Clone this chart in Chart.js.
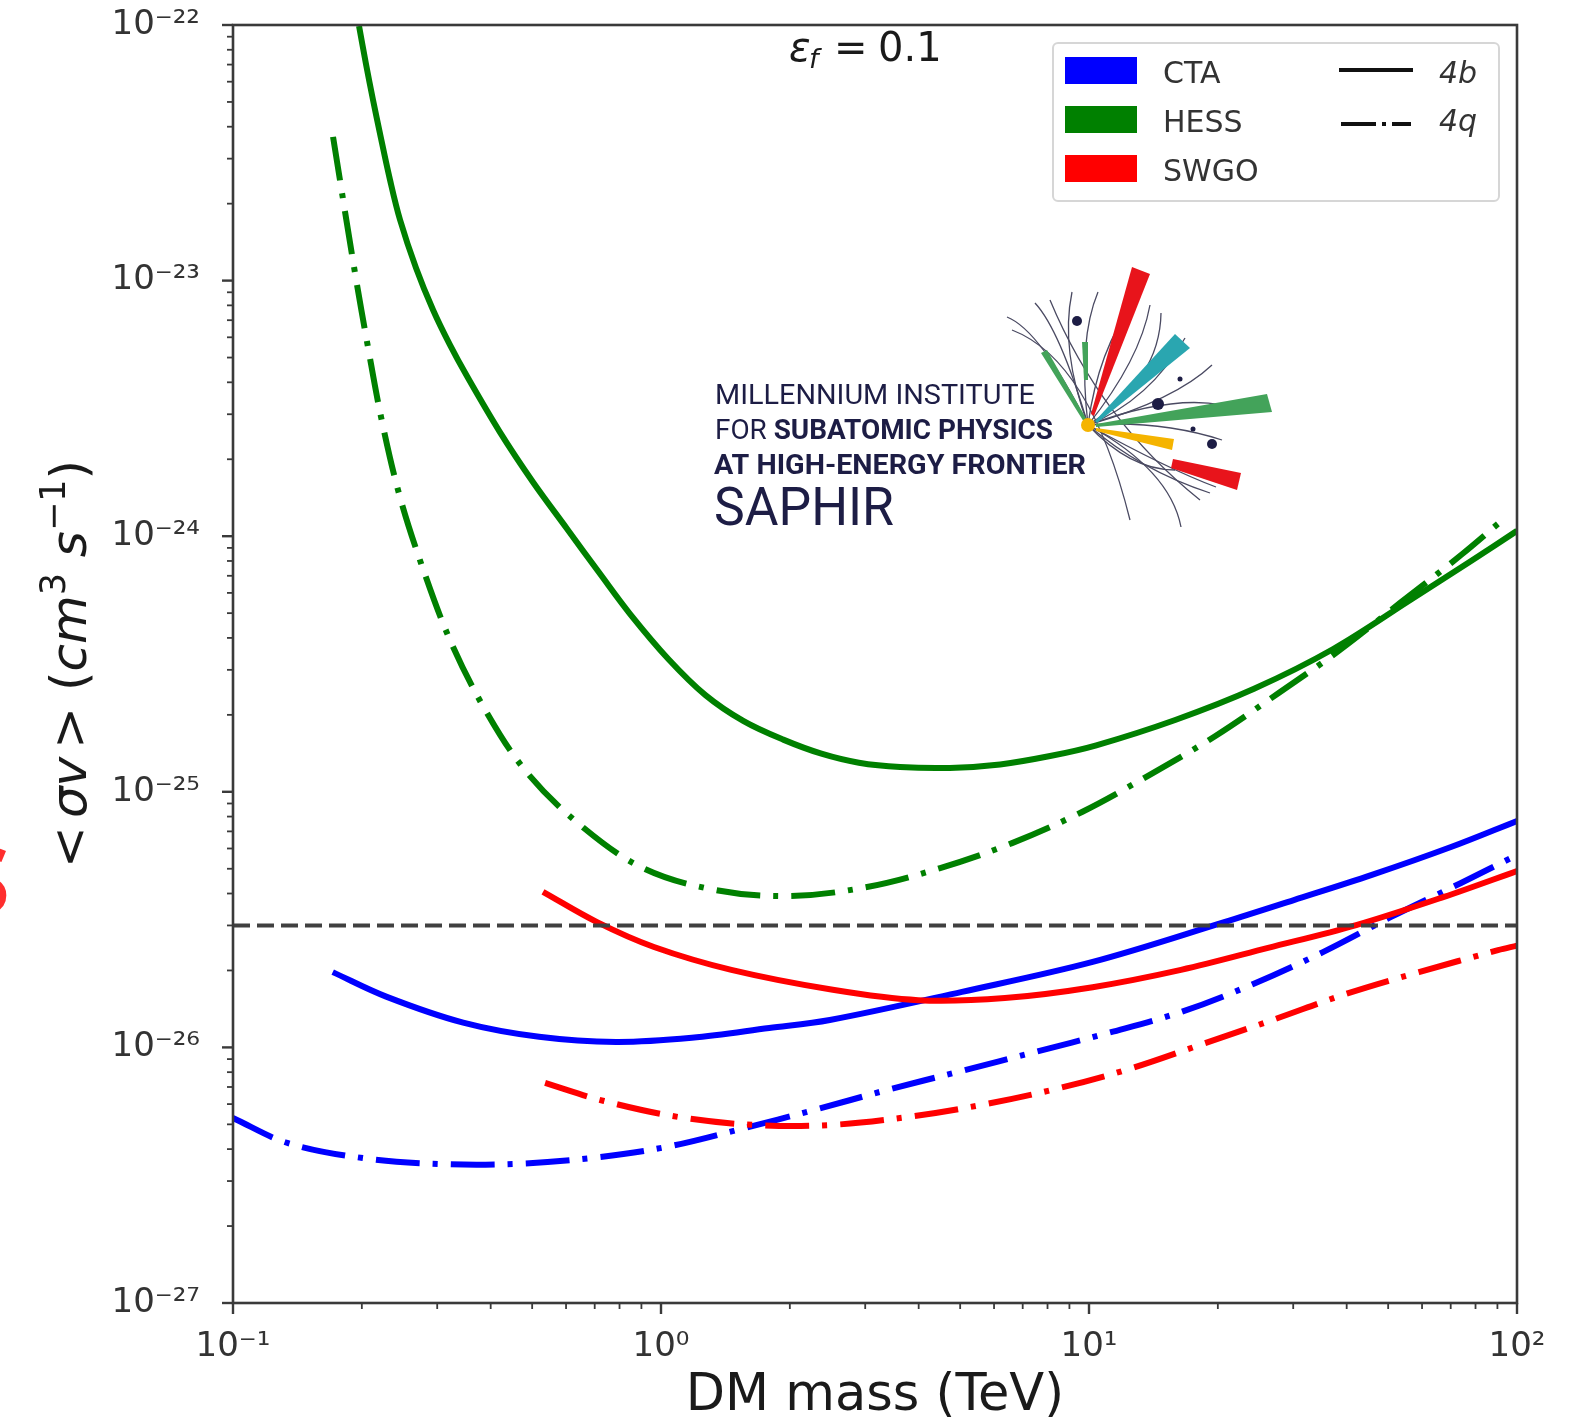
<!DOCTYPE html>
<html>
<head>
<meta charset="utf-8">
<script src="https://cdn.jsdelivr.net/npm/chart.js@4.4.1/dist/chart.umd.min.js"></script>
<style>
  html, body { margin: 0; padding: 0; background: #fff; }
  canvas { display: block; }
</style>
</head>
<body>
<canvas id="grafico" width="1587" height="1427"></canvas>
<script>
//Masas en TeV y <σv> en cm^3 s^-1 de cada experimento
const ctaMass4b = [0.171, 0.228, 0.345, 0.519, 0.785, 1.18, 1.79, 2.48, 5.05, 10.2, 20.7, 30.1, 45.8, 70.1, 100];
const ctaSigma4b = [1.97e-26, 1.58e-26, 1.25e-26, 1.10e-26, 1.05e-26, 1.09e-26, 1.19e-26, 1.28e-26, 1.65e-26, 2.16e-26, 3.09e-26, 3.77e-26, 4.73e-26, 6.08e-26, 7.69e-26];

const ctaMass4q = [0.1, 0.134, 0.201, 0.301, 0.456, 0.686, 1.03, 1.54, 2.28, 3.37, 5.02, 7.48, 11.1, 16.5, 24.2, 35.2, 50.8, 74.0, 100];
const ctaSigma4q = [5.29e-27, 4.23e-27, 3.69e-27, 3.50e-27, 3.50e-27, 3.69e-27, 4.08e-27, 4.80e-27, 5.69e-27, 6.81e-27, 8.08e-27, 9.59e-27, 1.14e-26, 1.38e-26, 1.77e-26, 2.36e-26, 3.24e-26, 4.40e-26, 5.66e-26];

const hessMass4b = [0.197, 0.2045, 0.2124, 0.2206, 0.2327, 0.2456, 0.2677, 0.2934, 0.3213, 0.352, 0.42, 0.502, 0.603, 0.721, 0.847, 1.04, 1.27, 1.56, 1.93, 2.37, 2.9, 3.62, 4.73, 6.2, 8.11, 10.4, 15.9, 24.3, 37.2, 56.8, 78.1, 100];
const hessSigma4b = [9.91e-23, 7.04e-23, 5.09e-23, 3.75e-23, 2.48e-23, 1.73e-23, 1.12e-23, 7.67e-24, 5.6e-24, 4.23e-24, 2.56e-24, 1.63e-24, 1.07e-24, 7.11e-25, 4.96e-25, 3.31e-25, 2.39e-25, 1.89e-25, 1.6e-25, 1.41e-25, 1.3e-25, 1.25e-25, 1.24e-25, 1.28e-25, 1.38e-25, 1.52e-25, 1.91e-25, 2.53e-25, 3.62e-25, 5.68e-25, 8.0e-25, 1.05e-24];

const hessMass4q = [0.1713, 0.1928, 0.2067, 0.223, 0.2456, 0.278, 0.3213, 0.386, 0.484, 0.647, 0.908, 1.34, 2.0, 3.03, 4.49, 6.61, 9.63, 13.8, 19.7, 27.8, 38.6, 53.3, 74.0, 94.3];
const hessSigma4q = [3.65e-23, 1.07e-23, 5.5e-24, 2.8e-24, 1.42e-24, 7.44e-25, 3.93e-25, 2.13e-25, 1.2e-25, 7.42e-26, 5.03e-26, 4.13e-26, 3.91e-26, 4.24e-26, 5.03e-26, 6.3e-26, 8.34e-26, 1.16e-25, 1.65e-25, 2.44e-25, 3.59e-25, 5.48e-25, 8.44e-25, 1.19e-24];

const swgoMass4b = [0.53, 0.709, 0.963, 1.46, 2.52, 3.99, 6.36, 10.2, 16.4, 26.2, 42.1, 67.5, 100];
const swgoSigma4b = [4.06e-26, 3.09e-26, 2.47e-26, 2.01e-26, 1.68e-26, 1.53e-26, 1.56e-26, 1.72e-26, 2.01e-26, 2.45e-26, 3.01e-26, 3.88e-26, 4.9e-26];

const swgoMass4q = [0.536, 0.736, 1.10, 1.66, 2.48, 3.76, 5.59, 8.37, 12.4, 18.4, 27.2, 39.9, 59.0, 90.3, 100];
const swgoSigma4q = [7.26e-27, 6.17e-27, 5.34e-27, 4.97e-27, 4.97e-27, 5.34e-27, 5.95e-27, 6.88e-27, 8.23e-27, 1.03e-26, 1.29e-26, 1.62e-26, 1.97e-26, 2.4e-26, 2.5e-26];

//Seccion eficaz termica (linea discontinua)
const relicMass = [0.1, 100];
const relicSigma = [3e-26, 3e-26];

//Decadas de los ejes
const xDecadas = [-1, 0, 1, 2];
const yDecadas = [-27, -26, -25, -24, -23, -22];

const experimentos = ["CTA", "HESS", "SWGO"];
const canales = ["4b", "4q"];

const AZUL = "#0000ff";
const VERDE = "#008000";
const ROJO = "#ff0000";
const PUNTO_RAYA = [44, 13, 5, 13];

//Convierte un exponente a superindice unicode
const SUP = { "-": "\u207b", "0": "\u2070", "1": "\u00b9", "2": "\u00b2", "3": "\u00b3", "4": "\u2074", "5": "\u2075", "6": "\u2076", "7": "\u2077", "8": "\u2078", "9": "\u2079" };
function potencia(exp) {
  return "10" + String(exp).split("").map((c) => SUP[c]).join("");
}

function esPotencia(v) {
  const e = Math.log10(v);
  return Math.abs(e - Math.round(e)) < 1e-6;
}

//Marcas 1..9 por cada decada
function ticksLog(scale, decadas) {
  const ticks = [];
  for (let i = 0; i < decadas.length - 1; i++) {
    for (let k = 1; k <= 9; k++) {
      ticks.push({ value: k * Math.pow(10, decadas[i]) });
    }
  }
  ticks.push({ value: Math.pow(10, decadas[decadas.length - 1]) });
  scale.ticks = ticks;
}

function etiqueta(value) {
  return esPotencia(value) ? potencia(Math.round(Math.log10(value))) : "";
}

function serie(mass, sigma) {
  return mass.map((m, i) => ({ x: m, y: sigma[i] }));
}

function linea(label, mass, sigma, color, dash, order) {
  return {
    label: label,
    data: serie(mass, sigma),
    borderColor: color,
    borderWidth: 6,
    borderDash: dash,
    borderCapStyle: "butt",
    pointRadius: 0,
    fill: false,
    tension: 0.35,
    order: order,
  };
}

//Dibuja texto con partes de distinta fuente
function textoRico(ctx, partes, x, y, align) {
  let total = 0;
  partes.forEach((p) => {
    ctx.font = p.font;
    p.w = ctx.measureText(p.t).width + (p.gap || 0);
    total += p.w;
  });
  let cx = align === "center" ? x - total / 2 : x;
  partes.forEach((p) => {
    ctx.font = p.font;
    ctx.fillText(p.t, cx, y + (p.dy || 0));
    cx += p.w;
  });
}

//Texto escalado horizontalmente a un ancho dado
function textoAjustado(ctx, partes, x, y, ancho) {
  let total = 0;
  partes.forEach((p) => {
    ctx.font = p.font;
    p.w = ctx.measureText(p.t).width;
    total += p.w;
  });
  ctx.save();
  ctx.translate(x, y);
  ctx.scale(ancho / total, 1);
  let cx = 0;
  partes.forEach((p) => {
    ctx.font = p.font;
    ctx.fillText(p.t, cx, 0);
    cx += p.w;
  });
  ctx.restore();
}

function cuña(ctx, puntos, color) {
  ctx.fillStyle = color;
  ctx.beginPath();
  ctx.moveTo(puntos[0][0], puntos[0][1]);
  for (let i = 1; i < puntos.length; i++) ctx.lineTo(puntos[i][0], puntos[i][1]);
  ctx.closePath();
  ctx.fill();
}

function circulo(ctx, x, y, r, color) {
  ctx.fillStyle = color;
  ctx.beginPath();
  ctx.arc(x, y, r, 0, Math.PI * 2);
  ctx.fill();
}

//Logo del instituto dentro del area del grafico
function dibujarLogo(ctx) {
  const navy = "#1d1d45";
  ctx.save();
  ctx.fillStyle = navy;
  ctx.textAlign = "left";
  ctx.textBaseline = "alphabetic";
  const reg = '400 28px Roboto';
  const neg = '700 28px Roboto';
  textoAjustado(ctx, [{ t: "MILLENNIUM INSTITUTE", font: reg }], 715, 404, 320);
  textoAjustado(ctx, [{ t: "FOR ", font: reg }, { t: "SUBATOMIC PHYSICS", font: neg }], 715, 439, 338);
  textoAjustado(ctx, [{ t: "AT HIGH-ENERGY FRONTIER", font: neg }], 714, 474, 372);
  textoAjustado(ctx, [{ t: "SAPHIR", font: '400 53px Roboto' }], 714, 525, 180);

  //Trazas finas
  const c = [1088, 425];
  const trazas = [
    [[1007, 317], [1040, 330]],
    [[1035, 303], [1060, 330]],
    [[1072, 292], [1060, 350]],
    [[1098, 292], [1078, 340]],
    [[1135, 300], [1098, 350]],
    [[1150, 305], [1140, 360]],
    [[1161, 313], [1160, 380]],
    [[1185, 338], [1150, 400]],
    [[1212, 365], [1175, 400]],
    [[1222, 405], [1170, 395]],
    [[1216, 487], [1170, 470]],
    [[1181, 527], [1170, 470]],
    [[1210, 493], [1140, 470]],
    [[1222, 440], [1160, 420]],
    [[1175, 470], [1130, 470]],
  ];
  ctx.strokeStyle = "#4a4a62";
  ctx.lineWidth = 1.3;
  trazas.forEach(([fin, ctrl]) => {
    ctx.beginPath();
    ctx.moveTo(c[0], c[1]);
    ctx.quadraticCurveTo(ctrl[0], ctrl[1], fin[0], fin[1]);
    ctx.stroke();
  });
  //Arcos largos que cruzan el centro
  ctx.beginPath();
  ctx.moveTo(1012, 330);
  ctx.quadraticCurveTo(1090, 360, 1130, 520);
  ctx.stroke();
  ctx.beginPath();
  ctx.moveTo(1050, 300);
  ctx.quadraticCurveTo(1100, 420, 1200, 500);
  ctx.stroke();

  //Cuñas de colores
  cuña(ctx, [[1091, 414], [1132, 267], [1150, 274], [1094, 416]], "#e8141b");
  cuña(ctx, [[1095, 421], [1175, 334], [1190, 348], [1097, 423]], "#2aa6b0");
  cuña(ctx, [[1096, 424], [1267, 394], [1272, 412], [1096, 427]], "#43a35a");
  cuña(ctx, [[1096, 428], [1174, 439], [1172, 450], [1096, 431]], "#f5b400");
  cuña(ctx, [[1173, 459], [1241, 473], [1237, 490], [1171, 468]], "#e8141b");
  cuña(ctx, [[1041, 353], [1047, 350], [1087, 420], [1084, 422]], "#43a35a");
  cuña(ctx, [[1082, 342], [1088, 342], [1088, 380], [1084, 380]], "#43a35a");

  circulo(ctx, 1077, 321, 5, navy);
  circulo(ctx, 1158, 404, 6, navy);
  circulo(ctx, 1212, 444, 5, navy);
  circulo(ctx, 1180, 379, 2.5, navy);
  circulo(ctx, 1193, 429, 2.5, navy);
  circulo(ctx, 1088, 425, 7, "#f5b400");
  ctx.restore();
}

//Leyenda con colores por experimento y estilo por canal
function dibujarLeyenda(ctx) {
  const colores = [AZUL, VERDE, ROJO];
  ctx.save();
  ctx.fillStyle = "rgba(255,255,255,0.8)";
  ctx.strokeStyle = "#d6d6d6";
  ctx.lineWidth = 2;
  ctx.beginPath();
  ctx.roundRect(1053, 43, 446, 158, 5);
  ctx.fill();
  ctx.stroke();

  ctx.font = '30px "DejaVu Sans"';
  ctx.textAlign = "left";
  ctx.textBaseline = "alphabetic";
  experimentos.forEach((nombre, i) => {
    const y = 57 + i * 49;
    ctx.fillStyle = colores[i];
    ctx.fillRect(1065, y, 72, 27);
    ctx.fillStyle = "#333";
    ctx.fillText(nombre, 1163, y + 26);
  });

  ctx.strokeStyle = "#111";
  ctx.lineWidth = 4;
  ctx.lineCap = "butt";
  ctx.beginPath();
  ctx.moveTo(1339, 70);
  ctx.lineTo(1413, 70);
  ctx.stroke();
  ctx.setLineDash([35, 6, 4, 6]);
  ctx.beginPath();
  ctx.moveTo(1341, 124);
  ctx.lineTo(1411, 124);
  ctx.stroke();
  ctx.setLineDash([]);

  ctx.fillStyle = "#333";
  ctx.font = 'italic 30px "DejaVu Sans"';
  ctx.fillText(canales[0], 1439, 83);
  ctx.fillText(canales[1], 1439, 131);
  ctx.restore();
}

//Marco, marcas de los ejes y textos sueltos
function dibujarEjes(chart) {
  const ctx = chart.ctx;
  const a = chart.chartArea;
  const sx = chart.scales.x;
  const sy = chart.scales.y;
  ctx.save();
  ctx.strokeStyle = "#3a3a3a";
  ctx.lineWidth = 2.6;
  ctx.strokeRect(a.left, a.top, a.right - a.left, a.bottom - a.top);

  sx.ticks.forEach((t) => {
    const p = sx.getPixelForValue(t.value);
    const mayor = esPotencia(t.value);
    ctx.lineWidth = mayor ? 2.4 : 1.8;
    ctx.beginPath();
    ctx.moveTo(p, a.bottom);
    ctx.lineTo(p, a.bottom + (mayor ? 11 : 6));
    ctx.stroke();
  });
  sy.ticks.forEach((t) => {
    const p = sy.getPixelForValue(t.value);
    const mayor = esPotencia(t.value);
    ctx.lineWidth = mayor ? 2.4 : 1.8;
    ctx.beginPath();
    ctx.moveTo(a.left, p);
    ctx.lineTo(a.left - (mayor ? 11 : 6), p);
    ctx.stroke();
  });

  //Titulo del eje y
  ctx.fillStyle = "#1a1a1a";
  ctx.textBaseline = "alphabetic";
  ctx.translate(86, (a.top + a.bottom) / 2);
  ctx.rotate(-Math.PI / 2);
  const up = '50px "DejaVu Sans"';
  const it = 'italic 50px "DejaVu Sans"';
  const sup = '35px "DejaVu Sans"';
  textoRico(ctx, [
    { t: "<", font: up, gap: 8 },
    { t: "\u03c3v", font: it, gap: 8 },
    { t: ">", font: up },
    { t: " (", font: up },
    { t: "cm", font: it },
    { t: "3", font: sup, dy: -21 },
    { t: " ", font: up },
    { t: "s", font: it },
    { t: "\u22121", font: sup, dy: -21 },
    { t: ")", font: up },
  ], 0, 0, "center");
  ctx.restore();

  //Eficiencia
  ctx.save();
  ctx.fillStyle = "#1a1a1a";
  ctx.textBaseline = "alphabetic";
  ctx.font = 'italic 40px "DejaVu Sans"';
  ctx.fillText("\u03b5", 789, 61);
  ctx.font = 'italic 27px "DejaVu Sans"';
  ctx.fillText("f", 809, 68);
  ctx.font = '40px "DejaVu Sans"';
  ctx.fillText("=", 834, 61);
  ctx.fillText("0.1", 878, 61);

  //Resto de letra roja en el borde
  ctx.fillStyle = "#ff2e2e";
  ctx.font = 'bold 94px "Open Sans"';
  ctx.textAlign = "right";
  ctx.fillText("S", 10, 914);
  ctx.restore();
}

const decoraciones = {
  id: "decoraciones",
  beforeDatasetsDraw(chart) {
    dibujarLogo(chart.ctx);
  },
  afterDatasetsDraw(chart) {
    dibujarLeyenda(chart.ctx);
  },
  afterDraw(chart) {
    dibujarEjes(chart);
  },
};

const datos = {
  datasets: [
    {
      label: "relic",
      data: serie(relicMass, relicSigma),
      borderColor: "#404040",
      borderWidth: 4,
      borderDash: [17, 7],
      borderCapStyle: "butt",
      pointRadius: 0,
      fill: false,
      order: 0,
    },
    linea("SWGO 4b", swgoMass4b, swgoSigma4b, ROJO, [], 1),
    linea("SWGO 4q", swgoMass4q, swgoSigma4q, ROJO, PUNTO_RAYA, 1),
    linea("HESS 4b", hessMass4b, hessSigma4b, VERDE, [], 2),
    linea("HESS 4q", hessMass4q, hessSigma4q, VERDE, PUNTO_RAYA, 2),
    linea("CTA 4b", ctaMass4b, ctaSigma4b, AZUL, [], 3),
    linea("CTA 4q", ctaMass4q, ctaSigma4q, AZUL, PUNTO_RAYA, 3),
  ],
};

const fuenteTicks = { family: "DejaVu Sans", size: 34 };

const opciones = {
  responsive: false,
  animation: false,
  devicePixelRatio: 1,
  layout: { padding: { left: 0, right: 70, top: 25, bottom: 0 } },
  plugins: {
    legend: { display: false },
    tooltip: { enabled: false },
  },
  scales: {
    x: {
      type: "logarithmic",
      min: Math.pow(10, xDecadas[0]),
      max: Math.pow(10, xDecadas[xDecadas.length - 1]),
      afterBuildTicks: (s) => ticksLog(s, xDecadas),
      afterFit: (s) => {
        s.height = 124;
        s.paddingLeft = 0;
        s.paddingRight = 0;
      },
      grid: { display: false },
      border: { display: false },
      ticks: { autoSkip: false, maxRotation: 0, padding: 16, color: "#333", font: fuenteTicks, callback: etiqueta },
      title: {
        display: true,
        text: "DM mass (TeV)",
        color: "#1a1a1a",
        font: { family: "DejaVu Sans", size: 51 },
        padding: { top: 0, bottom: 0 },
      },
    },
    y: {
      type: "logarithmic",
      min: Math.pow(10, yDecadas[0]),
      max: Math.pow(10, yDecadas[yDecadas.length - 1]),
      afterBuildTicks: (s) => ticksLog(s, yDecadas),
      afterFit: (s) => {
        s.width = 233;
        s.paddingTop = 0;
        s.paddingBottom = 0;
      },
      grid: { display: false },
      border: { display: false },
      ticks: { autoSkip: false, padding: 25, color: "#333", font: fuenteTicks, callback: etiqueta },
    },
  },
};

new Chart(document.getElementById("grafico"), {
  type: "line",
  data: datos,
  options: opciones,
  plugins: [decoraciones],
});
</script>
</body>
</html>
